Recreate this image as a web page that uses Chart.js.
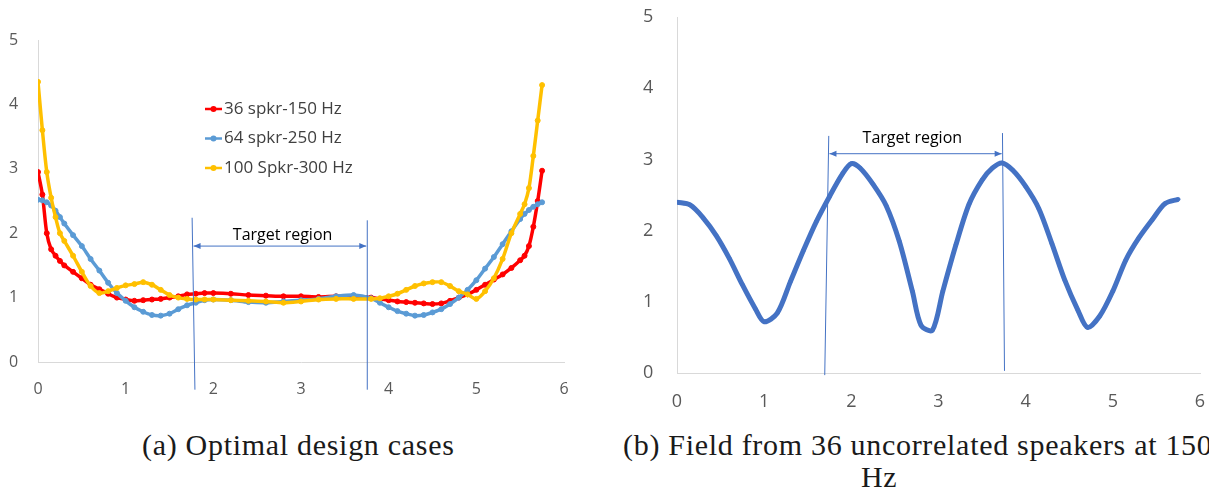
<!DOCTYPE html>
<html>
<head>
<meta charset="utf-8">
<script src="https://cdn.jsdelivr.net/npm/chart.js@4.4.1/dist/chart.umd.min.js"></script>
<style>
body { margin:0; background:#fff; overflow:hidden; width:1209px; height:490px; position:relative; }
canvas { position:absolute; }
#c1 { left:0; top:0; }
#c2 { left:630px; top:0; }
.cap { position:absolute; font-family:"Liberation Serif", serif; font-size:30px; line-height:30px; letter-spacing:0.7px; color:#1a1a1a; white-space:nowrap; }
</style>
</head>
<body>
<canvas id="c1" width="600" height="402"></canvas>
<canvas id="c2" width="600" height="413"></canvas>
<div class="cap" style="left:142px;top:430px">(a) Optimal design cases</div>
<div class="cap" style="left:623px;top:430px">(b) Field from 36 uncorrelated speakers at 150</div>
<div class="cap" style="left:861px;top:462px">Hz</div>
<script>
// left panel: optimal design cases
var x_left = [0, 0.05, 0.1, 0.15, 0.2, 0.25, 0.3, 0.4, 0.5, 0.6, 0.7, 0.8, 0.9, 1.0, 1.1, 1.2, 1.3, 1.4, 1.5, 1.6, 1.7, 1.8, 1.9, 2.0,
	2.2, 2.4, 2.6, 2.8, 3.0, 3.2, 3.4, 3.6, 3.8, 3.9, 4.0, 4.1, 4.2, 4.3, 4.4, 4.5, 4.6, 4.7, 4.8, 4.9, 5.0, 5.1, 5.2, 5.3, 5.4,
	5.5, 5.55, 5.6, 5.65, 5.7, 5.75];
var spkr36 = [2.95, 2.6, 2.0, 1.75, 1.65, 1.57, 1.5, 1.4, 1.3, 1.2, 1.13, 1.06, 1.0, 0.97, 0.95, 0.96, 0.97, 0.98, 1.0, 1.02, 1.05, 1.06, 1.07, 1.07,
	1.06, 1.04, 1.03, 1.02, 1.02, 1.01, 1.02, 1.02, 1.0, 0.98, 0.96, 0.94, 0.93, 0.92, 0.91, 0.9, 0.91, 0.95, 1.0, 1.05, 1.12, 1.2, 1.28, 1.36, 1.46,
	1.58, 1.65, 1.8, 2.1, 2.5, 2.97];
var spkr64 = [2.52, 2.51, 2.48, 2.43, 2.35, 2.25, 2.15, 1.97, 1.8, 1.6, 1.42, 1.23, 1.07, 0.95, 0.85, 0.78, 0.73, 0.72, 0.75, 0.82, 0.88, 0.92, 0.96, 0.97,
	0.96, 0.93, 0.92, 0.94, 0.96, 0.98, 1.02, 1.04, 0.99, 0.92, 0.85, 0.79, 0.75, 0.72, 0.73, 0.77, 0.82, 0.9, 1.0, 1.12, 1.27, 1.45, 1.63, 1.83, 2.03,
	2.22, 2.3, 2.36, 2.41, 2.45, 2.48];
var spkr100 = [4.35, 3.6, 2.95, 2.55, 2.25, 2.0, 1.88, 1.65, 1.4, 1.18, 1.07, 1.1, 1.15, 1.19, 1.21, 1.24, 1.2, 1.12, 1.04, 1.0, 0.98, 0.97, 0.97, 0.97,
	0.96, 0.95, 0.94, 0.92, 0.94, 0.97, 0.98, 0.98, 0.98, 0.99, 1.02, 1.06, 1.12, 1.18, 1.22, 1.24, 1.24, 1.18, 1.1, 1.05, 0.98, 1.1, 1.3, 1.6, 2.0,
	2.3, 2.45, 2.7, 3.2, 3.75, 4.3];
var names_left = ['36 spkr-150 Hz', '64 spkr-250 Hz', '100 Spkr-300 Hz'];

// right panel: 36 uncorrelated speakers
var x_right = [0, 0.15, 0.3, 0.45, 0.6, 0.75, 0.9, 1.0, 1.15, 1.3, 1.45, 1.6, 1.75, 1.9, 2.0, 2.1, 2.25, 2.4, 2.55, 2.7, 2.8, 2.93,
	3.05, 3.2, 3.35, 3.5, 3.62, 3.73, 3.85, 4.0, 4.15, 4.3, 4.45, 4.6, 4.71, 4.85, 5.0, 5.15, 5.3, 5.45, 5.6, 5.75];
var field36 = [2.4, 2.36, 2.18, 1.93, 1.61, 1.24, 0.9, 0.72, 0.84, 1.28, 1.72, 2.13, 2.48, 2.8, 2.94, 2.88, 2.65, 2.35, 1.85, 1.15, 0.67, 0.6,
	1.15, 1.8, 2.37, 2.71, 2.88, 2.95, 2.85, 2.62, 2.31, 1.82, 1.3, 0.88, 0.64, 0.8, 1.15, 1.59, 1.9, 2.15, 2.38, 2.44];

function pts(xs, ys) {
	return xs.map(function(x, i){ return {x:x, y:ys[i]}; });
}

// target region brackets: [x top, y top, x bottom, y bottom] per line, arrow height, label position
var region_left = {l1:[1.758, 2.24, 1.79, -0.43], l2:[3.756, 2.2, 3.756, -0.43], arrowY:1.8, textX:2.79, textY:1.96};
var region_right = {l1:[1.741, 3.33, 1.695, -0.03], l2:[3.734, 3.37, 3.757, 0.03], arrowY:3.08, textX:2.70, textY:3.30};

function regionPlugin(r) {
	return {
		id:'region',
		afterDatasetsDraw:function(chart){
			var ctx = chart.ctx, xs = chart.scales.x, ys = chart.scales.y;
			function px(v){ return xs.getPixelForValue(v); }
			function py(v){ return ys.getPixelForValue(v); }
			ctx.save();
			ctx.strokeStyle = '#4472C4';
			ctx.fillStyle = '#4472C4';
			ctx.lineWidth = 1;
			[r.l1, r.l2].forEach(function(l){
				ctx.beginPath();
				ctx.moveTo(px(l[0]), py(l[1]));
				ctx.lineTo(px(l[2]), py(l[3]));
				ctx.stroke();
			});
			var a = r.l1[0] + (r.l1[2]-r.l1[0]) * (r.l1[1]-r.arrowY)/(r.l1[1]-r.l1[3]);
			var b = r.l2[0] + (r.l2[2]-r.l2[0]) * (r.l2[1]-r.arrowY)/(r.l2[1]-r.l2[3]);
			var x1 = px(a) + 1, x2 = px(b) - 1, y = py(r.arrowY);
			ctx.beginPath();
			ctx.moveTo(x1, y); ctx.lineTo(x2, y);
			ctx.stroke();
			ctx.beginPath();
			ctx.moveTo(x1, y); ctx.lineTo(x1+7, y-3); ctx.lineTo(x1+7, y+3); ctx.closePath();
			ctx.moveTo(x2, y); ctx.lineTo(x2-7, y-3); ctx.lineTo(x2-7, y+3); ctx.closePath();
			ctx.fill();
			ctx.fillStyle = '#000';
			ctx.font = '16px "Open Sans"';
			ctx.textAlign = 'center';
			ctx.textBaseline = 'middle';
			ctx.fillText('Target region', px(r.textX), py(r.textY));
			ctx.restore();
		}
	};
}

var legendPlugin = {
	id:'excelLegend',
	afterDraw:function(chart){
		var ctx = chart.ctx, area = chart.chartArea;
		ctx.save();
		chart.data.datasets.forEach(function(ds, i){
			var x = area.left + 167, y = area.top + 69 + i*29.5;
			ctx.strokeStyle = ds.borderColor;
			ctx.fillStyle = ds.borderColor;
			ctx.lineWidth = 2.5;
			ctx.beginPath(); ctx.moveTo(x, y); ctx.lineTo(x+17, y); ctx.stroke();
			ctx.beginPath(); ctx.arc(x+8.5, y, 3, 0, Math.PI*2); ctx.fill();
			ctx.fillStyle = '#404040';
			ctx.font = '17px "Open Sans"';
			ctx.textBaseline = 'middle';
			ctx.fillText(ds.label, x+19, y);
		});
		ctx.restore();
	}
};

function axes(tickSize, yw, xpad) {
	return {
		x:{
			type:'linear', min:0, max:6,
			grid:{display:false},
			border:{color:'#D9D9D9', width:1},
			ticks:{stepSize:1, color:'#595959', padding:xpad, font:{family:'"Open Sans"', size:tickSize}},
			afterFit:function(s){ s.height = 40; }
		},
		y:{
			min:0, max:5,
			grid:{display:false},
			border:{color:'#D9D9D9', width:1},
			ticks:{stepSize:1, color:'#595959', padding:0, crossAlign:'far', font:{family:'"Open Sans"', size:tickSize}},
			afterFit:function(s){ s.width = yw; }
		}
	};
}

function series(label, data, color) {
	return {
		label:label,
		data:data,
		borderColor:color,
		backgroundColor:color,
		borderWidth:3.5,
		pointRadius:2.5,
		pointBorderWidth:1,
		pointBorderColor:color,
		tension:0.3,
		fill:false
	};
}

var rel1 = new Chart(document.getElementById('c1'), {
	type:'line',
	data:{
		datasets:[
			Object.assign(series(names_left[0], pts(x_left, spkr36), '#FF0000'), {order:3}),
			Object.assign(series(names_left[1], pts(x_left, spkr64), '#5B9BD5'), {order:2}),
			Object.assign(series(names_left[2], pts(x_left, spkr100), '#FFC000'), {order:1})
		]
	},
	options:{
		responsive:false,
		animation:false,
		devicePixelRatio:1,
		layout:{padding:{top:40, right:36, left:9, bottom:0}},
		plugins:{legend:{display:false}, tooltip:{enabled:false}},
		scales:axes(16, 29, 10)
	},
	plugins:[regionPlugin(region_left), legendPlugin]
});

var rel2 = new Chart(document.getElementById('c2'), {
	type:'line',
	data:{
		datasets:[
			Object.assign(series('36 uncorrelated speakers', pts(x_right, field36), '#4472C4'), {borderWidth:5, pointRadius:1.8})
		]
	},
	options:{
		responsive:false,
		animation:false,
		devicePixelRatio:1,
		layout:{padding:{top:17, right:30, left:13, bottom:0}},
		plugins:{legend:{display:false}, tooltip:{enabled:false}},
		scales:axes(18, 34, 10)
	},
	plugins:[regionPlugin(region_right)]
});
</script>
</body>
</html>
